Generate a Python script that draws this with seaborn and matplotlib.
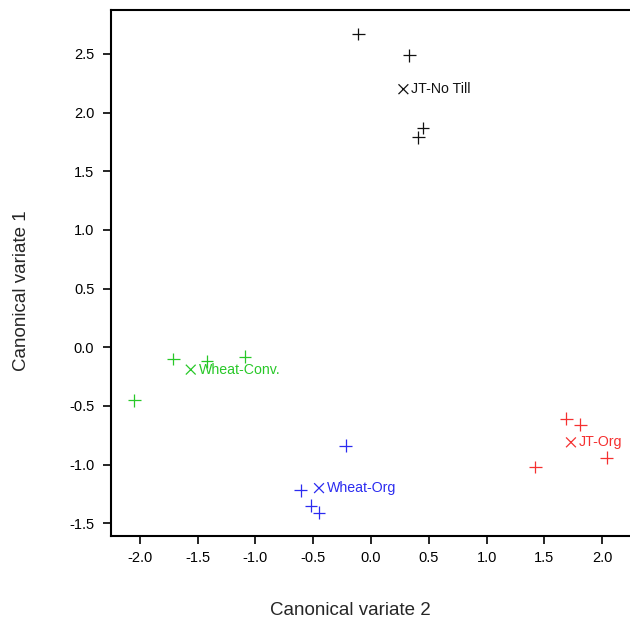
import matplotlib
matplotlib.use("Agg")
import matplotlib.pyplot as plt
import seaborn as sns
import pandas as pd

# Observations (Canonical variate 2 on x, Canonical variate 1 on y)
groups = ["JT-No Till"] * 4 + ["Wheat-Conv."] * 4 + ["Wheat-Org"] * 4 + ["JT-Org"] * 4
cv2 = [-0.11, 0.33, 0.45, 0.41,
       -2.05, -1.71, -1.42, -1.09,
       -0.22, -0.61, -0.52, -0.45,
       1.42, 1.69, 1.81, 2.04]
cv1 = [2.67, 2.49, 1.87, 1.79,
       -0.45, -0.10, -0.12, -0.08,
       -0.84, -1.22, -1.35, -1.41,
       -1.02, -0.61, -0.66, -0.94]

# Group centroids
cent_names = ["JT-No Till", "Wheat-Conv.", "Wheat-Org", "JT-Org"]
cent_cv2 = [0.28, -1.56, -0.45, 1.73]
cent_cv1 = [2.20, -0.19, -1.20, -0.81]

palette = {"JT-No Till": "#111111", "Wheat-Conv.": "#28c828",
           "Wheat-Org": "#2b2bf0", "JT-Org": "#f53030"}

df = pd.DataFrame({"cv2": cv2, "cv1": cv1, "group": groups})
cdf = pd.DataFrame({"cv2": cent_cv2, "cv1": cent_cv1, "group": cent_names})

sns.set_style("white")
plt.rcParams["font.family"] = ["Liberation Sans", "DejaVu Sans"]

fig = plt.figure(figsize=(6.3, 6.21), dpi=100)
ax = fig.add_axes([0.1762, 0.1369, 0.853, 0.847])

sns.scatterplot(data=df, x="cv2", y="cv1", hue="group", palette=palette,
                marker="+", s=85, linewidth=0.9, legend=False, ax=ax)
sns.scatterplot(data=cdf, x="cv2", y="cv1", hue="group", palette=palette,
                marker="x", s=50, linewidth=0.9, legend=False, ax=ax)
for name, x, y in zip(cent_names, cent_cv2, cent_cv1):
    ax.text(x + 0.07, y, name, color=palette[name], fontsize=10.2,
            va="center", ha="left")

ax.set_xlim(-2.25, 2.4)
ax.set_ylim(-1.608, 2.875)
ax.set_xticks([-2.0, -1.5, -1.0, -0.5, 0.0, 0.5, 1.0, 1.5, 2.0])
ax.set_yticks([-1.5, -1.0, -0.5, 0.0, 0.5, 1.0, 1.5, 2.0, 2.5])
ax.set_xticklabels([f"{v:.1f}" for v in ax.get_xticks()])
ax.set_yticklabels([f"{v:.1f}" for v in ax.get_yticks()])
ax.tick_params(axis="both", which="major", length=6, width=1.2, direction="out",
               labelsize=10.5, colors="black", bottom=True, left=True)
ax.tick_params(axis="x", pad=5)
ax.tick_params(axis="y", pad=6)
for sp in ["left", "bottom", "top", "right"]:
    ax.spines[sp].set_color("black")
    ax.spines[sp].set_linewidth(1.5)

ax.set_xlabel("Canonical variate 2", fontsize=13.5)
ax.set_ylabel("Canonical variate 1", fontsize=13.5)
ax.xaxis.set_label_coords(0.445, -0.125)
ax.yaxis.set_label_coords(-0.151, 0.466)

fig.savefig("out.png", dpi=100)
